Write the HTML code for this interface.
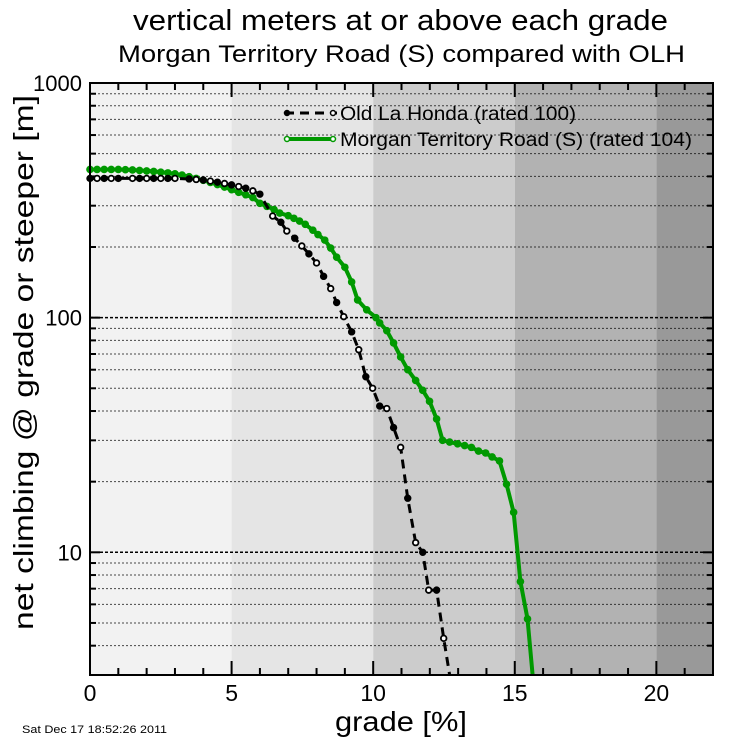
<!DOCTYPE html>
<html><head><meta charset="utf-8"><style>
body{margin:0;background:#fff;}
svg text{font-family:"Liberation Sans",sans-serif;}
</style></head><body>
<svg id="chart" width="750" height="750" xmlns="http://www.w3.org/2000/svg">
<text x="133" y="30" font-size="29" textLength="535" lengthAdjust="spacingAndGlyphs">vertical meters at or above each grade</text>
<text x="118" y="62" font-size="24" textLength="567" lengthAdjust="spacingAndGlyphs">Morgan Territory Road (S) compared with OLH</text>
<g id="bands"></g><g id="grid"></g><g id="ticks"></g><g id="series"></g>
<rect x="90" y="83" width="623" height="592" fill="none" stroke="#000" stroke-width="2"/>
<g id="labels"></g>
<text x="335" y="731" font-size="28" textLength="132" lengthAdjust="spacingAndGlyphs">grade [%]</text>
<text transform="translate(33,630) rotate(-90)" font-size="28" textLength="535" lengthAdjust="spacingAndGlyphs">net climbing @ grade or steeper [m]</text>
<text x="22" y="733" font-size="11" textLength="145" lengthAdjust="spacingAndGlyphs">Sat Dec 17 18:52:26 2011</text>
<g>
<line x1="285" y1="113" x2="337" y2="113" stroke="#000" stroke-width="3" stroke-dasharray="9,6"/>
<circle cx="287" cy="113" r="2.5" fill="#000" stroke="#000" stroke-width="1.5"/><circle cx="333" cy="113" r="2.5" fill="#fff" stroke="#000" stroke-width="1.5"/>
<text x="340" y="120" font-size="19" textLength="236" lengthAdjust="spacingAndGlyphs">Old La Honda (rated 100)</text>
<line x1="286" y1="139" x2="333" y2="139" stroke="#009900" stroke-width="4"/>
<circle cx="287" cy="139" r="2.5" fill="#fff" stroke="#009900" stroke-width="1.5"/><circle cx="333" cy="139" r="2.5" fill="#fff" stroke="#009900" stroke-width="1.5"/>
<text x="340" y="146" font-size="19" textLength="352" lengthAdjust="spacingAndGlyphs">Morgan Territory Road (S) (rated 104)</text>
</g>
</svg>
<script>
const xTicks=[0,5,10,15,20];
const yTicks=[10,100,1000];
const olhGrade=[0,0.25,0.5,0.75,1,1.5,1.75,2,2.25,2.5,2.75,3,3.5,3.75,4,4.25,4.5,4.75,5,5.25,5.5,5.75,6,6.45,6.74,6.95,7.23,7.48,7.73,8,8.25,8.5,8.71,8.96,9.24,9.49,9.74,9.98,10.23,10.48,10.72,10.97,11.22,11.5,11.75,11.96,12.24,12.49,12.7];
const olhValue=[392,392,392,392,392,392,392,392,392,392,392,392,390,388,386,382,378,373,368,362,356,347,336,271,255,234,218,202,187,171,150,133,116,101,87,73,56,50,42,41,34,28,17,11,10,6.9,6.9,4.3,2.9];
const mtrGrade=[0,0.25,0.5,0.75,1,1.25,1.5,1.75,2,2.25,2.5,2.75,3,3.25,3.5,3.75,4,4.25,4.5,4.75,5,5.25,5.5,5.75,6,6.25,6.5,6.7,7,7.2,7.4,7.6,7.87,8.05,8.29,8.5,8.71,9,9.24,9.45,9.77,10.1,10.23,10.48,10.72,10.97,11.22,11.5,11.75,11.99,12.24,12.45,12.7,12.98,13.23,13.47,13.72,13.97,14.2,14.46,14.71,14.96,15.2,15.45,15.63];
const mtrValue=[428,428,428,428,428,427,426,424,422,420,417,414,410,405,399,392,385,377,369,360,351,342,334,325,307,298,289,279,272,265,258,250,236,226,214,198,181,164,142,119,108,100,95,88,78,68,60,54,49,44,37,30,29.5,29,28.5,28,27,26.5,25.5,24.5,19.5,14.8,7.5,5.2,2.9];
const X0=90,X1=713,Y0=83,Y1=675,XMIN=0,XMAX=22,YMIN=3,YMAX=1000;
const sx=g=>X0+(g-XMIN)/(XMAX-XMIN)*(X1-X0);
const sy=v=>Y0+(Math.log10(YMAX)-Math.log10(v))/(Math.log10(YMAX)-Math.log10(YMIN))*(Y1-Y0);
const NS="http://www.w3.org/2000/svg";
function mk(tag,attrs,parent){const e=document.createElementNS(NS,tag);for(const k in attrs)e.setAttribute(k,attrs[k]);document.getElementById(parent).appendChild(e);return e;}
const bandCols=["#f2f2f2","#e5e5e5","#cccccc","#b2b2b2","#999999"];
for(let i=0;i<5;i++){const a=i*5,b=Math.min(22,a+5);
 const r=mk('rect',{x:sx(a),y:Y0,width:sx(b)-sx(a),height:Y1-Y0,fill:bandCols[i]},'bands');
 
 }
for(let d=1;d<=100;d*=10)for(let m=1;m<=9;m++){const v=d*m;if(v<YMIN||v>=YMAX)continue;const y=sy(v);
 const major=m===1;
 const l=mk('line',{x1:X0,x2:X1,y1:y,y2:y,stroke:'#000','stroke-width':major?1.5:1,'stroke-dasharray':major?'3,2':'2,2',opacity:major?1:0.7},'grid');
 
 
 const len=major?10:6;
 mk('line',{x1:X0,x2:X0+len,y1:y,y2:y,stroke:'#000','stroke-width':2},'ticks');
 mk('line',{x1:X1-len,x2:X1,y1:y,y2:y,stroke:'#000','stroke-width':2},'ticks');}
for(let g=0;g<=22;g++){const x=sx(g),len=g%5===0?14:7;
 mk('line',{x1:x,x2:x,y1:Y1-len,y2:Y1,stroke:'#000','stroke-width':2},'ticks');
 mk('line',{x1:x,x2:x,y1:Y0,y2:Y0+len,stroke:'#000','stroke-width':2},'ticks');}
xTicks.forEach(t=>{const e=mk('text',{x:sx(t),y:701,'font-size':23,'text-anchor':'middle'},'labels');e.textContent=t;
 
 });
yTicks.forEach(t=>{const e=mk('text',{x:82,y:sy(t)+8,'font-size':22,'text-anchor':'end'},'labels');e.textContent=t;
 
 });
function clipPts(G,V){return G.map((g,i)=>sx(g)+','+Math.min(Y1,sy(V[i]))).join(' ');}
const gl=mk('polyline',{points:clipPts(mtrGrade,mtrValue),fill:'none',stroke:'#009900','stroke-width':4},'series');


mtrGrade.forEach((g,i)=>{if(sy(mtrValue[i])>Y1)return;const c=mk('circle',{cx:sx(g),cy:sy(mtrValue[i]),r:3.8,fill:'#009900'},'series');
 
 });
const bl=mk('polyline',{points:clipPts(olhGrade,olhValue),fill:'none',stroke:'#000','stroke-width':3,'stroke-dasharray':'9,6'},'series');


olhGrade.forEach((g,i)=>{if(sy(olhValue[i])>Y1)return;const c=mk('circle',{cx:sx(g),cy:sy(olhValue[i]),r:2.8,fill:i%2?'#fff':'#000',stroke:'#000','stroke-width':1.8},'series');
 
 });
</script>
</body></html>
